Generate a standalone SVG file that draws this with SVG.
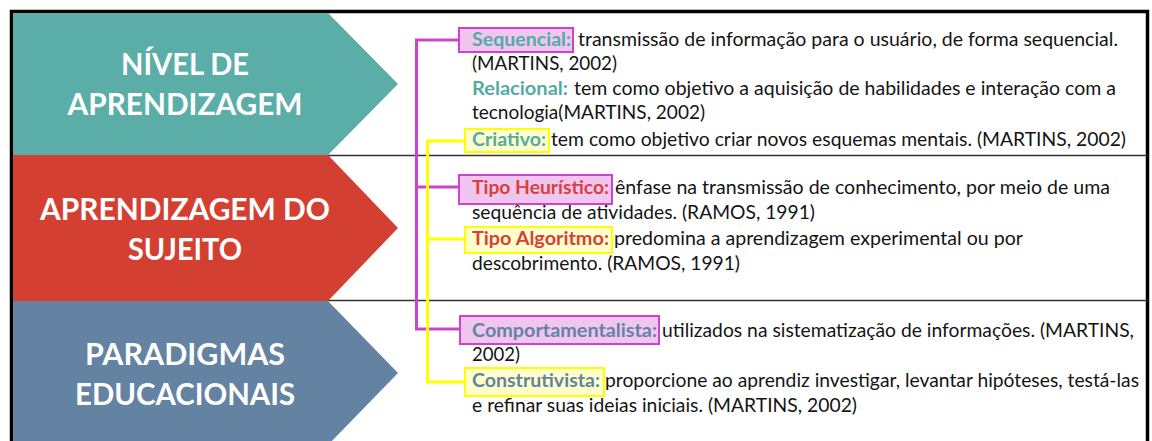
<svg xmlns="http://www.w3.org/2000/svg" width="1152" height="441" viewBox="0 0 1152 441">
<style>
.bg{fill:#ffffff}
.title{font-family:Lato,"Open Sans","Liberation Sans",sans-serif;font-weight:bold;font-size:31px;fill:#ffffff;text-anchor:middle}
.body{font-family:Lato,"Open Sans","Liberation Sans",sans-serif;font-size:19px;fill:#141414}
.lbl{font-family:Lato,"Open Sans","Liberation Sans",sans-serif;font-weight:bold;font-size:19px}
.teal{fill:#52aca4}
.red{fill:#d8413a}
.slate{fill:#6483a3}
.boxM{fill:#f0c6f0;stroke:#cc44cc;stroke-width:2}
.boxY{fill:#ffffcc;stroke:#ffff00;stroke-width:2}
.sep{stroke:#333333;stroke-width:1.5;fill:none}
.conM{stroke:#cc44cc;stroke-width:3;fill:none}
.conY{stroke:#ffff00;stroke-width:3;fill:none}
</style>
<rect class="bg" x="0" y="0" width="1152" height="441"/>
<rect x="11.5" y="11.5" width="1136" height="440" fill="none" stroke="#000000" stroke-width="3.5"/>
<line class="sep" x1="328" y1="155.5" x2="1147" y2="155.5"/>
<line class="sep" x1="328" y1="300.5" x2="1147" y2="300.5"/>

<g id="nivel">
<polygon points="13,13 328,13 398,84 328,155 13,155" fill="#5baea7"/>
<text class="title" x="185" y="75" textLength="128" lengthAdjust="spacingAndGlyphs">NÍVEL DE</text>
<text class="title" x="185" y="115" textLength="235" lengthAdjust="spacingAndGlyphs">APRENDIZAGEM</text>
</g>
<g id="sujeito">
<polygon points="13,155 328,155 398,228 328,301 13,301" fill="#d34032"/>
<text class="title" x="185" y="220" textLength="290" lengthAdjust="spacingAndGlyphs">APRENDIZAGEM DO</text>
<text class="title" x="185" y="260" textLength="114" lengthAdjust="spacingAndGlyphs">SUJEITO</text>
</g>
<g id="paradigmas">
<polygon points="13,301 328,301 398,373 328,445 13,445" fill="#6483a3"/>
<text class="title" x="185" y="365" textLength="200" lengthAdjust="spacingAndGlyphs">PARADIGMAS</text>
<text class="title" x="185" y="405" textLength="220" lengthAdjust="spacingAndGlyphs">EDUCACIONAIS</text>
</g>

<g id="connectors">
<polyline class="conM" points="459,40 416.5,40 416.5,329 461,329"/>
<line class="conM" x1="416.5" y1="187" x2="459" y2="187"/>
<polyline class="conY" points="466,141 427.5,141 427.5,382 466,382"/>
<line class="conY" x1="427.5" y1="239" x2="466" y2="239"/>
</g>

<g id="sequencial">
<rect class="boxM" x="459" y="28" width="114" height="24"/>
<text class="lbl teal" x="472" y="46" textLength="99" lengthAdjust="spacingAndGlyphs">Sequencial:</text>
<text class="body" x="578" y="46" textLength="540" lengthAdjust="spacingAndGlyphs">transmissão de informação para o usuário, de forma sequencial.</text>
<text class="body" x="472" y="70" textLength="145" lengthAdjust="spacingAndGlyphs">(MARTINS, 2002)</text>
</g>
<g id="relacional">
<text class="lbl teal" x="472" y="95" textLength="96" lengthAdjust="spacingAndGlyphs">Relacional:</text>
<text class="body" x="574" y="95" textLength="542" lengthAdjust="spacingAndGlyphs">tem como objetivo a aquisição de habilidades e interação com a</text>
<text class="body" x="472" y="119" textLength="233" lengthAdjust="spacingAndGlyphs">tecnologia(MARTINS, 2002)</text>
</g>
<g id="criativo">
<rect class="boxY" x="465" y="129" width="84" height="23"/>
<text class="lbl teal" x="472" y="146" textLength="74" lengthAdjust="spacingAndGlyphs">Criativo:</text>
<text class="body" x="551" y="146" textLength="575" lengthAdjust="spacingAndGlyphs">tem como objetivo criar novos esquemas mentais. (MARTINS, 2002)</text>
</g>

<g id="heuristico">
<rect class="boxM" x="459" y="175" width="153" height="29"/>
<text class="lbl red" x="472" y="194" textLength="137" lengthAdjust="spacingAndGlyphs">Tipo Heurístico:</text>
<text class="body" x="615" y="194" textLength="495" lengthAdjust="spacingAndGlyphs">ênfase na transmissão de conhecimento, por meio de uma</text>
<text class="body" x="472" y="219" textLength="343" lengthAdjust="spacingAndGlyphs">sequência de atividades. (RAMOS, 1991)</text>
</g>
<g id="algoritmo">
<rect class="boxY" x="465" y="227" width="147" height="26"/>
<text class="lbl red" x="472" y="245" textLength="137" lengthAdjust="spacingAndGlyphs">Tipo Algoritmo:</text>
<text class="body" x="614" y="245" textLength="409" lengthAdjust="spacingAndGlyphs">predomina a aprendizagem experimental ou por</text>
<text class="body" x="472" y="270" textLength="268" lengthAdjust="spacingAndGlyphs">descobrimento. (RAMOS, 1991)</text>
</g>

<g id="comportamentalista">
<rect class="boxM" x="460" y="316" width="199" height="28"/>
<text class="lbl slate" x="472" y="337" textLength="185" lengthAdjust="spacingAndGlyphs">Comportamentalista:</text>
<text class="body" x="662" y="337" textLength="472" lengthAdjust="spacingAndGlyphs">utilizados na sistematização de informações. (MARTINS,</text>
<text class="body" x="472" y="361" textLength="48" lengthAdjust="spacingAndGlyphs">2002)</text>
</g>
<g id="construtivista">
<rect class="boxY" x="465" y="368" width="139" height="28"/>
<text class="lbl slate" x="472" y="387" textLength="128" lengthAdjust="spacingAndGlyphs">Construtivista:</text>
<text class="body" x="605" y="387" textLength="534" lengthAdjust="spacingAndGlyphs">proporcione ao aprendiz investigar, levantar hipóteses, testá-las</text>
<text class="body" x="472" y="412" textLength="385" lengthAdjust="spacingAndGlyphs">e refinar suas ideias iniciais. (MARTINS, 2002)</text>
</g>
</svg>
